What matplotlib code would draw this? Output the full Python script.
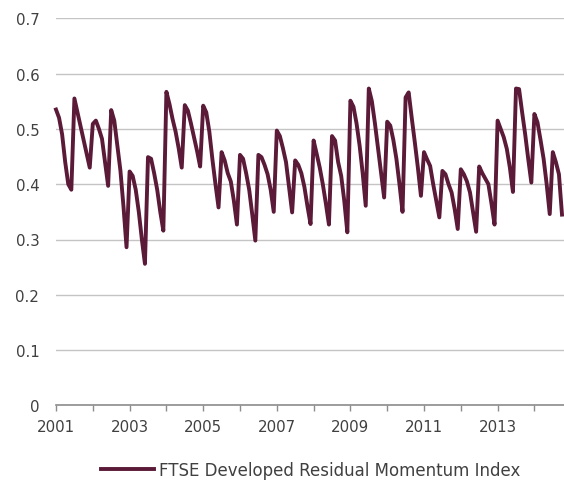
import numpy as np
import matplotlib.pyplot as plt

# monthly index values, Jan 2001 onward (six months per row)
index_values = [
    0.535, 0.520, 0.490, 0.440, 0.400, 0.390,
    0.555, 0.530, 0.505, 0.480, 0.455, 0.430,
    0.509, 0.515, 0.500, 0.482, 0.440, 0.397,
    0.534, 0.515, 0.470, 0.425, 0.360, 0.286,
    0.423, 0.415, 0.390, 0.350, 0.300, 0.256,
    0.449, 0.446, 0.420, 0.390, 0.350, 0.316,
    0.567, 0.545, 0.518, 0.495, 0.465, 0.430,
    0.543, 0.533, 0.510, 0.485, 0.460, 0.432,
    0.542, 0.530, 0.495, 0.445, 0.400, 0.358,
    0.458, 0.443, 0.420, 0.405, 0.370, 0.327,
    0.453, 0.446, 0.420, 0.390, 0.345, 0.298,
    0.453, 0.449, 0.435, 0.418, 0.390, 0.350,
    0.497, 0.487, 0.465, 0.440, 0.395, 0.349,
    0.443, 0.435, 0.420, 0.395, 0.360, 0.328,
    0.479, 0.455, 0.430, 0.400, 0.365, 0.327,
    0.487, 0.479, 0.440, 0.415, 0.370, 0.313,
    0.551, 0.540, 0.510, 0.470, 0.420, 0.361,
    0.573, 0.550, 0.510, 0.465, 0.420, 0.376,
    0.513, 0.506, 0.480, 0.446, 0.400, 0.350,
    0.557, 0.566, 0.520, 0.476, 0.430, 0.379,
    0.458, 0.445, 0.433, 0.400, 0.370, 0.340,
    0.424, 0.418, 0.400, 0.385, 0.355, 0.319,
    0.427, 0.418, 0.405, 0.385, 0.350, 0.314,
    0.432, 0.420, 0.410, 0.400, 0.365, 0.327,
    0.515, 0.500, 0.485, 0.464, 0.430, 0.386,
    0.573, 0.572, 0.530, 0.490, 0.445, 0.403,
    0.527, 0.512, 0.480, 0.446, 0.400, 0.346,
    0.458, 0.440, 0.418, 0.345,
]
start_year = 2001
year_ticks = list(range(2001, 2015))
year_labels = [str(y) if (y - 2001) % 2 == 0 else "" for y in year_ticks]
series_name = "FTSE Developed Residual Momentum Index"

dates = start_year + np.arange(len(index_values)) / 12.0

plt.rcParams['font.family'] = ['DejaVu Sans']
fig = plt.figure(figsize=(5.64, 4.85), dpi=100)
ax = fig.add_axes([56 / 564, 1 - 406.4 / 485, 508 / 564, (406.4 - 19.3) / 485])

ax.plot(dates, index_values, color="#5a1a38", linewidth=2.8, label=series_name,
        solid_joinstyle="round", clip_on=False)

ax.set_xlim(2001, 2001 + 508 / 36.8)
ax.set_ylim(0, 0.7)
ax.set_yticks(np.arange(0, 0.71, 0.1))
ax.set_yticklabels(["0"] + ["%.1f" % v for v in np.arange(0.1, 0.71, 0.1)])
ax.set_xticks(year_ticks)
ax.set_xticklabels(year_labels)

ax.grid(axis="y", color="#c4c4c4", linewidth=1.0)
ax.set_axisbelow(True)
for s in ["top", "right", "left"]:
    ax.spines[s].set_visible(False)
ax.spines["bottom"].set_color("#8c8c8c")
ax.spines["bottom"].set_linewidth(1.2)
ax.tick_params(axis="y", length=0, pad=12, labelsize=10.8, labelcolor="#404040")
ax.tick_params(axis="x", length=4, width=1, color="#8c8c8c", pad=6,
               labelsize=10.8, labelcolor="#404040")

fig.legend(loc="center", bbox_to_anchor=(0.5505, 1 - 470.7 / 485), frameon=False,
           fontsize=12, handlelength=3.2, handletextpad=0.3, labelcolor="#404040")

fig.savefig("out.png", dpi=100)
